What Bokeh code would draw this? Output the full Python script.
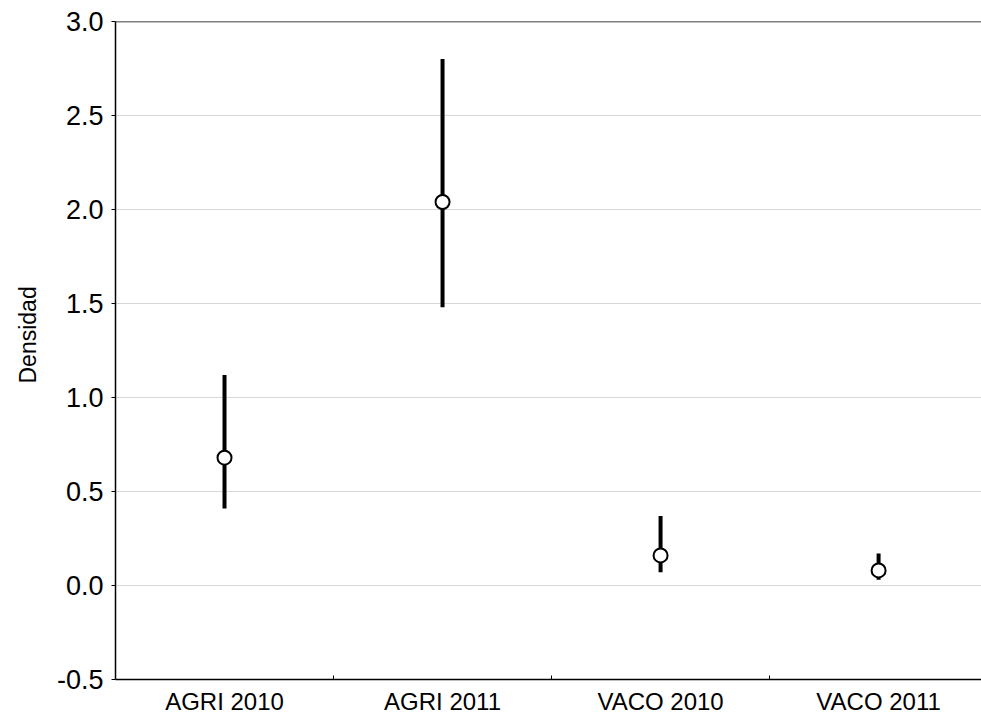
from bokeh.plotting import figure
from bokeh.models import Range1d, FixedTicker, ColumnDataSource, Span, Title
from bokeh.embed import file_html
from bokeh.resources import INLINE

categories = ["AGRI 2010", "AGRI 2011", "VACO 2010", "VACO 2011"]
means = [0.68, 2.04, 0.16, 0.08]
upper = [1.12, 2.80, 0.37, 0.17]
lower = [0.41, 1.48, 0.07, 0.03]
y_ticks = [-0.5, 0.0, 0.5, 1.0, 1.5, 2.0, 2.5, 3.0]
y_title = "Densidad"

xs = [i + 1 for i in range(len(categories))]
src = ColumnDataSource(dict(x=xs, m=means, hi=upper, lo=lower))

p = figure(width=981, height=719, output_backend="svg", toolbar_location=None,
           x_range=Range1d(0.5, 4.472), y_range=Range1d(-0.5, 3.0),
           min_border_left=115, min_border_right=0, min_border_top=21, min_border_bottom=40)

p.segment(x0="x", y0="lo", x1="x", y1="hi", source=src, line_width=4, line_color="black")
p.scatter(x="x", y="m", source=src, size=14, fill_color="white", line_color="black", line_width=2)

p.outline_line_color = None
p.add_layout(Span(location=3.0, dimension="width", line_color="black", line_width=1.5))
p.background_fill_color = "white"
p.border_fill_color = "white"

p.xaxis.ticker = FixedTicker(ticks=xs, minor_ticks=[1.5, 2.5, 3.5])
p.xaxis.major_label_overrides = {x: c for x, c in zip(xs, categories)}
p.xaxis.major_tick_in = 0
p.xaxis.major_tick_out = 0
p.xaxis.minor_tick_in = 4
p.xaxis.minor_tick_out = 0
p.xaxis.minor_tick_line_color = "black"
p.xaxis.major_label_text_font = "Liberation Sans"
p.xaxis.major_label_text_font_size = "24px"
p.xaxis.major_label_text_color = "black"
p.xaxis.major_label_standoff = 8
p.xaxis.axis_line_color = "black"
p.xaxis.axis_line_width = 1.5

p.yaxis.ticker = FixedTicker(ticks=y_ticks, minor_ticks=[])
p.yaxis.major_label_overrides = {t: f"{t:.1f}" for t in y_ticks}
p.yaxis.major_tick_in = 0
p.yaxis.major_tick_out = 4
p.yaxis.major_tick_line_color = "black"
p.yaxis.major_label_text_font = "Liberation Sans"
p.yaxis.major_label_text_font_size = "27px"
p.yaxis.major_label_text_color = "black"
p.yaxis.major_label_standoff = 8
p.yaxis.axis_line_color = "black"
p.yaxis.axis_line_width = 1.5

# y-axis title as a side title, placed a little above the frame centre as in the reference
p.add_layout(Title(text=y_title, align="left", offset=296, standoff=25,
                   text_font="Liberation Sans", text_font_size="23px",
                   text_font_style="normal", text_color="black"), "left")

p.xgrid.grid_line_color = None
p.ygrid.grid_line_color = "#b0b0b0"
p.ygrid.grid_line_dash = "1 1"
p.ygrid.grid_line_width = 1

open("out.html", "w").write(file_html(p, INLINE))
